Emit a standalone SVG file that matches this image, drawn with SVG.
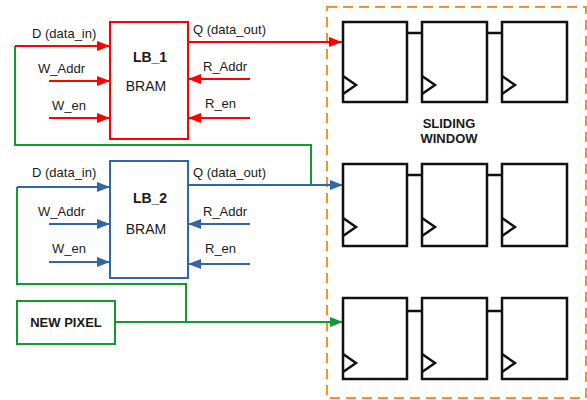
<svg xmlns="http://www.w3.org/2000/svg" width="587" height="400" viewBox="0 0 587 400">
<style>
  text { font-family: "Liberation Sans", Arial, sans-serif; font-size: 13px; fill: #1a1a1a; }
  .b { font-weight: bold; }
  .mid { text-anchor: middle; }
  .bram { font-size: 14px; }
  .red { stroke: #ff0000; }
  .blue { stroke: #3465a4; }
  .green { stroke: #159a33; }
  .w { fill: none; stroke-width: 2; }
  .ff { fill: #fff; stroke: #111; stroke-width: 2.5; }
  .ffl { fill: none; stroke: #111; stroke-width: 2.5; }
</style>
<defs>
  <marker id="ar" markerUnits="userSpaceOnUse" markerWidth="14" markerHeight="10" refX="13" refY="5" orient="auto"><path d="M0,0 L13,5 L0,10 z" fill="#ff0000"/></marker>
  <marker id="ab" markerUnits="userSpaceOnUse" markerWidth="14" markerHeight="10" refX="13" refY="5" orient="auto"><path d="M0,0 L13,5 L0,10 z" fill="#3465a4"/></marker>
  <marker id="ag" markerUnits="userSpaceOnUse" markerWidth="14" markerHeight="10" refX="13" refY="5" orient="auto"><path d="M0,0 L13,5 L0,10 z" fill="#159a33"/></marker>
</defs>

<rect id="sliding-window" x="327" y="7" width="259" height="391" fill="none" stroke="#f7902a" stroke-width="2" stroke-dasharray="10,6"/>
<g id="sliding-label">
  <text class="b mid" x="449" y="128">SLIDING</text>
  <text class="b mid" x="449" y="143">WINDOW</text>
</g>

<g id="connectors">
  <!-- green -->
  <path class="w green" d="M15,46 V145 H311 V185"/>
  <path class="w green" d="M17,187 V284 H186 V322"/>
  <path class="w green" d="M115,322 H343" marker-end="url(#ag)"/>
  <!-- red -->
  <path class="w red" d="M15,46 H110" marker-end="url(#ar)"/>
  <path class="w red" d="M49,81 H110" marker-end="url(#ar)"/>
  <path class="w red" d="M49,118 H110" marker-end="url(#ar)"/>
  <path class="w red" d="M188,42 H342" marker-end="url(#ar)"/>
  <path class="w red" d="M250,79 H188" marker-end="url(#ar)"/>
  <path class="w red" d="M250,118 H188" marker-end="url(#ar)"/>
  <!-- blue -->
  <path class="w blue" d="M17,187 H110" marker-end="url(#ab)"/>
  <path class="w blue" d="M49,224 H110" marker-end="url(#ab)"/>
  <path class="w blue" d="M49,262 H110" marker-end="url(#ab)"/>
  <path class="w blue" d="M188,185 H343" marker-end="url(#ab)"/>
  <path class="w blue" d="M250,224 H188" marker-end="url(#ab)"/>
  <path class="w blue" d="M250,264 H188" marker-end="url(#ab)"/>
  <!-- flip-flop chain links -->
  <path class="ffl" stroke-width="2" d="M407,33 H422 M487,33 H502"/>
  <path class="ffl" stroke-width="2" d="M407,175 H422 M487,175 H502"/>
  <path class="ffl" stroke-width="2" d="M407,311 H422 M487,311 H502"/>
</g>

<g id="labels-1">
  <text x="32" y="38">D (data_in)</text>
  <text x="38" y="73">W_Addr</text>
  <text x="52" y="110">W_en</text>
  <text x="193" y="34">Q (data_out)</text>
  <text x="203" y="71">R_Addr</text>
  <text x="205" y="108">R_en</text>
</g>
<g id="labels-2">
  <text x="32" y="177">D (data_in)</text>
  <text x="38" y="216">W_Addr</text>
  <text x="52" y="253">W_en</text>
  <text x="193" y="177">Q (data_out)</text>
  <text x="203" y="216">R_Addr</text>
  <text x="205" y="253">R_en</text>
</g>

<g id="LB_1">
  <rect x="110" y="22" width="78" height="117" fill="#fff" stroke="#ff0000" stroke-width="2"/>
  <text class="b bram mid" x="150" y="62">LB_1</text>
  <text class="bram mid" x="146" y="91">BRAM</text>
</g>
<g id="LB_2">
  <rect x="110" y="161" width="78" height="117" fill="#fff" stroke="#3465a4" stroke-width="2"/>
  <text class="b bram mid" x="150" y="203">LB_2</text>
  <text class="bram mid" x="146" y="234">BRAM</text>
</g>
<g id="new-pixel">
  <rect x="17" y="301" width="98" height="43" fill="#fff" stroke="#159a33" stroke-width="2"/>
  <text class="b mid" x="66" y="327">NEW PIXEL</text>
</g>

<g id="ff-row1">
  <rect class="ff" x="343" y="22" width="64" height="80"/>
  <path class="ffl" d="M343,76 L356,85 L343,94"/>
  <rect class="ff" x="422" y="22" width="65" height="80"/>
  <path class="ffl" d="M422,76 L435,85 L422,94"/>
  <rect class="ff" x="502" y="22" width="65" height="80"/>
  <path class="ffl" d="M502,76 L515,85 L502,94"/>
</g>
<g id="ff-row2">
  <rect class="ff" x="343" y="164" width="64" height="82"/>
  <path class="ffl" d="M343,218 L356,227 L343,236"/>
  <rect class="ff" x="422" y="164" width="65" height="82"/>
  <path class="ffl" d="M422,218 L435,227 L422,236"/>
  <rect class="ff" x="502" y="164" width="65" height="82"/>
  <path class="ffl" d="M502,218 L515,227 L502,236"/>
</g>
<g id="ff-row3">
  <rect class="ff" x="343" y="298" width="64" height="81"/>
  <path class="ffl" d="M343,354 L356,363 L343,372"/>
  <rect class="ff" x="422" y="298" width="65" height="81"/>
  <path class="ffl" d="M422,354 L435,363 L422,372"/>
  <rect class="ff" x="502" y="298" width="65" height="81"/>
  <path class="ffl" d="M502,354 L515,363 L502,372"/>
</g>
</svg>
